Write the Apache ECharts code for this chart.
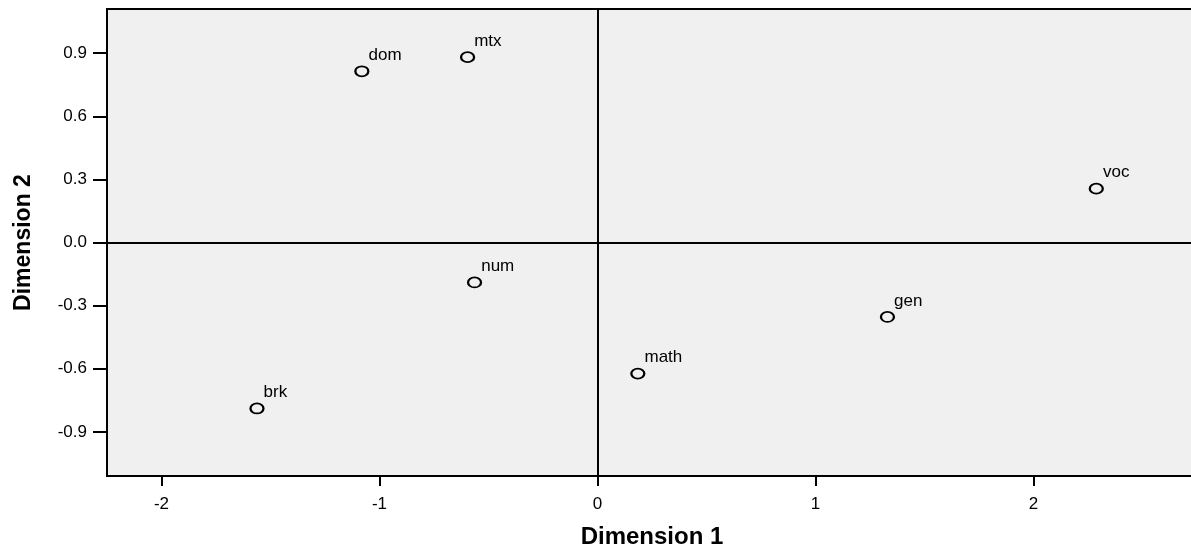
<!DOCTYPE html>
<html>
<head>
<meta charset="utf-8">
<script src="https://cdn.jsdelivr.net/npm/echarts@6/dist/echarts.min.js"></script>
<style>html,body{margin:0;padding:0;background:#fff}#chart{width:1191px;height:550px}</style>
</head>
<body>
<div id="chart"></div>
<script>
var names = ['dom', 'mtx', 'num', 'math', 'gen', 'brk', 'voc'];
var dim1 = [-1.081, -0.596, -0.564, 0.185, 1.330, -1.562, 2.288];
var dim2 = [0.814, 0.881, -0.190, -0.623, -0.354, -0.789, 0.256];
var xTicks = [-2, -1, 0, 1, 2];
var yTicks = [-0.9, -0.6, -0.3, 0.0, 0.3, 0.6, 0.9];

var FONT = 'Arial, "Liberation Sans", sans-serif';
var points = names.map(function (n, i) { return { name: n, value: [dim1[i], dim2[i]] }; });

var chart = echarts.init(document.getElementById('chart'), null, { renderer: 'canvas' });
chart.setOption({
  animation: false,
  backgroundColor: '#ffffff',
  grid: {
    left: 107, top: 9, width: 1090, height: 467,
    outerBoundsMode: 'none', containLabel: false,
    show: true, backgroundColor: '#f0f0f0', borderColor: '#000', borderWidth: 2
  },
  xAxis: {
    type: 'value', min: -2.25, max: 2.75,
    name: 'Dimension 1', nameLocation: 'middle', nameGap: 49,
    nameTextStyle: { fontFamily: FONT, fontSize: 24, fontWeight: 'bold', color: '#000' },
    axisLine: { show: true, onZero: false, lineStyle: { color: '#000', width: 2 } },
    axisTick: { show: true, customValues: xTicks, length: 10, lineStyle: { color: '#000', width: 2 } },
    axisLabel: { customValues: xTicks, margin: 20, fontFamily: FONT, fontSize: 17, color: '#000' },
    splitLine: { show: false }
  },
  yAxis: {
    type: 'value', min: -1.11, max: 1.11,
    name: 'Dimension 2', nameLocation: 'middle', nameGap: 72, nameRotate: 90,
    nameTextStyle: { fontFamily: FONT, fontSize: 23, fontWeight: 'bold', color: '#000' },
    axisLine: { show: true, onZero: false, lineStyle: { color: '#000', width: 2 } },
    axisTick: { show: true, customValues: yTicks, length: 14, lineStyle: { color: '#000', width: 2 } },
    axisLabel: {
      customValues: yTicks, margin: 20, fontFamily: FONT, fontSize: 17, color: '#000',
      formatter: function (v) { return v.toFixed(1); }
    },
    splitLine: { show: false }
  },
  series: [{
    type: 'scatter',
    data: points,
    symbol: 'circle',
    symbolSize: [13, 10],
    itemStyle: { color: 'rgba(0,0,0,0)', borderColor: '#000', borderWidth: 2, opacity: 1 },
    label: {
      show: true, position: 'right', distance: 0, offset: [-1, -16],
      formatter: '{b}', fontFamily: FONT, fontSize: 17, color: '#000'
    },
    emphasis: { disabled: true },
    markLine: {
      silent: true, symbol: 'none', label: { show: false },
      lineStyle: { color: '#000', width: 2, type: 'solid' },
      data: [{ xAxis: 0 }, { yAxis: 0 }]
    }
  }]
});
</script>
</body>
</html>
